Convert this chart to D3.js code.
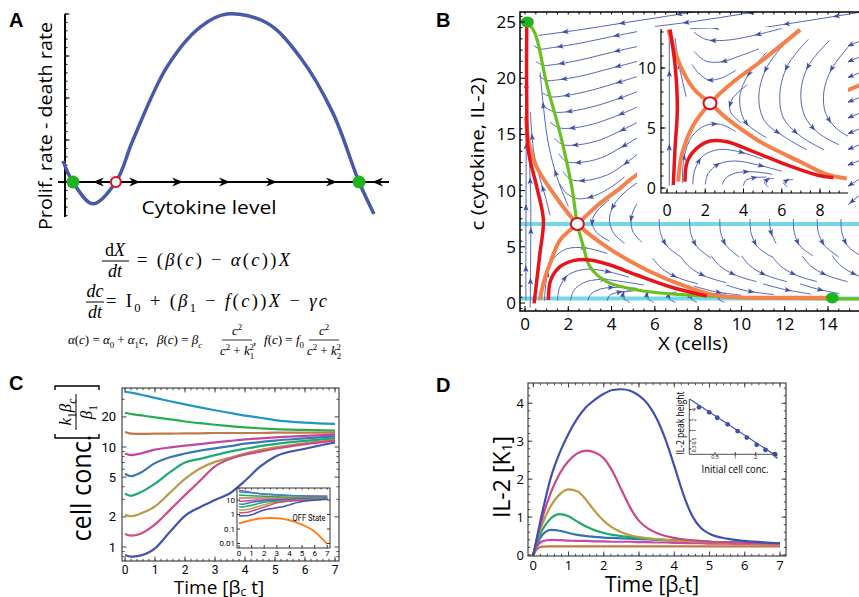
<!DOCTYPE html>
<html>
<head>
<meta charset="utf-8">
<script src="https://cdn.jsdelivr.net/npm/d3@7"></script>
<style>
  body { margin: 0; background: #fff; }
  svg { display: block; }
  text { font-family: 'Open Sans', 'DejaVu Sans', sans-serif; fill: #000; }
  .math { font-family: 'Liberation Serif', 'DejaVu Serif', serif; }
  .narrow { font-family: 'Liberation Sans Narrow', 'Roboto', sans-serif; }
  .plabel { font-family: 'Liberation Sans', Arial, sans-serif; font-weight: bold; }
</style>
</head>
<body>
<svg id="fig" width="859" height="597"></svg>
<script>
'use strict';

// ---------- data : panel A (net growth rate vs cytokine) ----------
var aCytokine = [0, 0.32, 0.96, 1.7, 2.25, 3.34, 4.41, 5.27, 6.56, 7.62, 8.68, 9.52, 10];
var aRate     = [0.625, 0, -0.65, 0, 1.25, 3.42, 4.61, 5.0, 4.73, 3.72, 2.05, 0, -0.95];
var aStable   = [0.32, 9.52];
var aUnstable = [1.7];
var aArrowPos = [0.96, 2.48, 3.86, 5.37, 6.88, 8.81, 9.94];
var aArrowDir = [-1, 1, 1, 1, 1, 1, -1];

// ---------- data : panel B (phase plane X, c) ----------
var bNullclineC = [[0.11,25.0],[0.46,24.0],[1.0,19.5],[1.62,15.1],[2.16,10.35],[2.42,7.03],[2.7,5.0],[3.0,3.23],[3.77,1.9],[5.16,1.16],[7.47,0.71],[10.55,0.47],[15.5,0.36]];
var bNullclineX = [0.4, 7.03];
var bUnstableSep = [[0.05,16.6],[0.15,14.5],[0.54,12.1],[1.31,9.76],[2.42,7.03],[3.77,5.0],[5.62,2.94],[7.47,1.45],[9.0,0.62],[12.1,0.47],[14.2,0.47]];
var bStableSep = [[0.69,0.27],[0.85,1.75],[1.16,3.53],[1.62,5.6],[2.42,7.03],[3.47,8.87],[4.39,10.2],[5.16,11.4],[10,16],[15.0,19.0],[15.6,19.5]];
var bTrajUp = [[0.42,-0.03],[0.51,1.45],[0.69,4.42],[0.85,7.38],[0.54,10.35],[0.15,13.6],[0.08,18.06],[0.08,24.7]];
var bTrajArch = [[1.08,0.27],[1.19,2.05],[1.62,3.23],[2.24,3.77],[3.0,3.83],[3.93,3.38],[5.16,2.49],[6.7,1.45],[8.4,0.62]];
var bStablePts = [[0.11,25.0],[14.2,0.45]];
var bSaddle = [2.42, 7.03];
var bStreams = [
  [[15.6,25.9],[13,25.1],[11,24.5]],
  [[12,26.3],[10,25.7],[8,25.1],[6,24.6]],
  [[8.5,26.1],[6.5,25.5],[4.5,24.9],[2.5,24.3],[0.6,23.8]],
  [[5.6,24.3],[4,23.7],[2.5,23.1],[1.2,22.7],[0.7,22.6],[0.4,22.9]],
  [[5.6,23.0],[4,22.3],[2.5,21.6],[1.3,21.2],[0.85,21.15],[0.5,21.5]],
  [[5.6,21.7],[4,20.9],[2.6,20.2],[1.5,19.85],[1.0,19.8],[0.65,20.2]],
  [[5.6,20.4],[4.1,19.5],[2.8,18.8],[1.7,18.4],[1.2,18.35],[0.8,18.7]],
  [[5.6,19.1],[4.2,18.1],[3.0,17.4],[1.9,17.0],[1.35,17.0],[0.95,17.4]],
  [[5.6,17.8],[4.3,16.7],[3.1,15.9],[2.1,15.55],[1.55,15.6],[1.15,16.1]],
  [[5.6,16.5],[4.4,15.3],[3.3,14.4],[2.3,14.05],[1.72,14.1],[1.35,14.7]],
  [[5.6,15.2],[4.5,13.9],[3.5,12.9],[2.5,12.5],[1.9,12.6],[1.55,13.3]],
  [[5.6,13.9],[4.7,12.5],[3.8,11.4],[2.8,10.9],[2.1,11.0],[1.75,11.7]],
  [[4.6,11.2],[3.8,10.1],[3.0,9.4],[2.35,9.3],[1.9,9.8],[1.6,10.6]],
  [[15.6,23.4],[14.6,22.6]], [[15.6,22.0],[14.6,21.2]], [[15.6,20.6],[14.6,19.8]],
  [[15.6,18.4],[14.6,17.6]], [[15.6,17.0],[14.6,16.2]], [[15.6,15.6],[14.6,14.8]],
  [[15.6,14.2],[14.6,13.4]], [[15.6,12.8],[14.6,12.0]], [[15.6,11.2],[14.6,10.0]],
  [[15.6,9.8],[14.7,8.4]],
  [[0.04,0.2],[0.04,5],[0.05,11],[0.06,17],[0.07,22]],
  [[0.24,-0.4],[0.26,4],[0.27,8.5],[0.2,13]],
  [[1.15,7.8],[0.95,9.4],[0.7,11],[0.4,13.5],[0.25,17]],
  [[2.0,8.6],[1.7,10],[1.35,12],[1.05,14.5],[0.85,17.5],[0.7,20.5]],
  [[0.9,0.2],[1.0,2.2],[1.3,3.9],[1.9,4.8],[2.8,4.9],[3.8,4.4]],
  [[1.5,0.2],[1.6,1.4],[2.0,2.5],[2.8,3.0],[3.8,2.8],[4.8,2.3]],
  [[2.1,0.2],[2.25,1.1],[2.7,1.8],[3.5,2.1],[4.5,1.9],[5.5,1.6]],
  [[2.9,0.2],[3.05,0.8],[3.5,1.25],[4.3,1.4],[5.2,1.3]],
  [[3.8,0.2],[3.9,0.65],[4.3,0.95],[5.0,1.05]],
  [[4.85,0.05],[4.5,0.55],[4.6,0.95],[4.9,1.15]],
  [[5.95,0.05],[5.6,0.55],[5.7,0.9],[6.0,1.05]],
  [[6.95,0.05],[6.6,0.5],[6.7,0.85],[7.0,0.98]],
  [[7.95,0.05],[7.6,0.5],[7.7,0.8],[8.0,0.9]],
  [[9.2,0.05],[8.9,0.45],[9.0,0.72],[9.3,0.8]],
  [[5.6,11.2],[4.7,10.0],[4.1,8.7],[3.9,7.4],[4.1,6.2],[4.6,5.3]],
  [[5.6,9.8],[5.1,8.6],[4.9,7.4],[5.0,6.3],[5.4,5.4]],
  [[3.9,9.2],[3.3,8.1],[3.1,7.2],[3.3,6.3],[3.9,5.5]],
  [[6.2,7.5],[6.25,6.3],[6.55,5.1],[7.2,4.1]],
  [[7.6,7.5],[7.66,6.2],[7.95,5.0],[8.6,4.0]],
  [[9.0,7.5],[9.04,6.3],[9.3,5.1],[9.9,4.1]],
  [[10.4,7.5],[10.45,6.2],[10.75,5.0],[11.4,4.1]],
  [[11.3,7.5],[11.35,6.4],[11.6,5.3]],
  [[12.4,7.5],[12.44,6.3],[12.7,5.1],[13.3,4.2]],
  [[13.5,7.5],[13.55,6.3],[13.85,5.1],[14.5,4.1]],
  [[14.6,7.5],[14.64,6.3],[14.9,5.1],[15.5,4.2]],
  [[5.9,4.0],[6.3,3.1],[7.0,2.3],[8.0,1.7]],
  [[7.2,4.1],[7.6,3.2],[8.3,2.4],[9.3,1.8]],
  [[8.6,4.2],[9.0,3.3],[9.7,2.5],[10.7,1.9]],
  [[10.0,4.2],[10.4,3.3],[11.1,2.5],[12.1,1.9]],
  [[11.4,4.2],[11.8,3.3],[12.5,2.5],[13.5,1.9]],
  [[12.8,4.2],[13.2,3.3],[13.9,2.5],[14.9,1.9]],
  [[14.2,4.2],[14.6,3.3],[15.3,2.5],[16.3,1.9]],
  [[7.8,1.5],[8.8,1.0],[10.0,0.7]],
  [[9.3,1.6],[10.2,1.1],[11.5,0.75]],
  [[11.0,1.7],[12.0,1.2],[13.2,0.8]],
  [[12.7,1.7],[13.6,1.2],[14.5,0.85]]
];

// inset of B (zoom near the saddle)
var iUnstableSep = [[0.07,13.2],[0.68,10.25],[1.38,8.3],[2.25,7.06],[3.13,5.8],[4.87,3.86],[6.96,2.19],[8.36,1.14],[9.4,0.8]];
var iStableSep = [[0.59,0.53],[0.77,2.75],[1.38,5.25],[2.25,7.06],[3.47,8.86],[4.87,10.5],[6.96,13.2]];
var iTrajUp = [[0.33,0.25],[0.42,3.3],[0.54,6.64],[0.42,10.25],[0.16,13.2]];
var iTrajArch = [[0.94,0.53],[1.06,2.19],[1.55,3.3],[2.25,3.92],[3.13,3.86],[4.52,3.03],[6.27,1.92],[7.84,1.08],[8.7,0.86]];
var iSaddle = [2.25, 7.06];
var iStreams = [
  [[4.0,13.6],[2.5,13.35],[1.2,13.3]],
  [[6.0,13.3],[4.5,12.7],[3.0,12.3],[2.0,12.4],[1.4,13.0]],
  [[4.8,11.6],[3.8,11.0],[2.8,10.5],[2.0,10.6],[1.4,11.4]],
  [[3.6,9.8],[2.9,9.2],[2.2,9.0],[1.7,9.5],[1.3,10.3]],
  [[0.12,0.2],[0.12,4],[0.12,8],[0.12,12.5]],
  [[1.0,7.6],[0.8,9.0],[0.62,10.3],[0.42,12.5]],
  [[0.8,0.4],[0.9,2.6],[1.3,4.3],[2.0,5.2],[2.8,5.3],[3.6,4.7]],
  [[1.35,0.3],[1.45,1.5],[1.9,2.7],[2.7,3.2],[3.7,3.05],[5.0,2.4]],
  [[2.0,0.3],[2.15,1.2],[2.7,2.0],[3.6,2.25],[4.8,1.9],[6.0,1.4]],
  [[2.9,0.3],[3.05,0.8],[3.6,1.25],[4.5,1.35],[5.5,1.15]],
  [[4.0,0.2],[4.1,0.6],[4.5,0.85],[5.2,0.9]],
  [[5.3,0.1],[5.1,0.45],[5.25,0.7],[5.6,0.8]],
  [[6.3,0.1],[6.1,0.4],[6.25,0.62],[6.6,0.7]],
  [[5.2,11.3],[4.2,9.3],[3.8,7.5],[4.1,5.5],[5.2,4.2]],
  [[6.3,12.3],[5.2,10.0],[4.8,7.6],[5.1,5.6],[6.2,4.2],[7.3,3.2]],
  [[7.4,12.4],[6.3,10.2],[5.9,7.8],[6.1,5.8],[7.0,4.3],[8.2,3.2]],
  [[8.5,12.3],[7.4,10.2],[7.0,8.0],[7.2,6.0],[7.9,4.6],[9.0,3.6]],
  [[9.5,11.8],[8.6,9.9],[8.2,8.0],[8.3,6.2],[8.9,4.9],[9.5,4.3]],
  [[4.2,8.6],[3.4,7.4],[3.3,6.4],[3.9,5.4]]
];

// ---------- data : panel C (cell concentration, log) ----------
var cTime = [0, 0.2, 0.5, 1, 1.5, 2, 2.5, 3, 3.5, 4, 4.5, 5, 6, 7];
var cTeal    = [35.7, 35.0, 33.5, 31.0, 28.7, 26.7, 24.9, 23.3, 21.9, 20.6, 19.6, 18.6, 17.5, 17.0];
var cGreen   = [22.0, 21.4, 20.8, 19.8, 18.9, 18.0, 17.3, 16.7, 16.2, 15.7, 15.4, 15.1, 14.8, 14.6];
var cBrown   = [14.1, 13.6, 13.5, 13.6, 13.6, 13.7, 13.7, 13.8, 13.8, 13.8, 13.8, 13.9, 13.9, 13.9];
var cMagenta = [8.6, 8.3, 8.6, 9.4, 9.9, 10.3, 10.7, 11.1, 11.5, 11.9, 12.2, 12.5, 12.9, 13.3];
var cBlue    = [5.4, 5.1, 5.5, 6.9, 7.9, 8.6, 9.2, 9.7, 10.2, 10.8, 11.2, 11.6, 12.2, 12.8];
var cGreen2  = [3.4, 3.25, 3.5, 4.3, 5.6, 7.0, 7.6, 8.3, 9.0, 9.6, 10.2, 10.7, 11.5, 12.2];
var cGold    = [2.1, 2.03, 2.15, 2.55, 3.5, 4.8, 6.1, 7.1, 7.8, 8.6, 9.3, 9.9, 10.9, 11.7];
var cPink    = [1.35, 1.3, 1.35, 1.68, 2.35, 3.3, 4.6, 6.4, 7.6, 8.4, 9.0, 9.6, 10.7, 11.6];
var cNavy    = [0.83, 0.8, 0.82, 0.97, 1.42, 2.05, 2.5, 2.95, 3.45, 4.6, 6.35, 8.0, 9.6, 11.1];
var cPurple  = [48, 45, 40, 33, 28, 25, 23.3, 22, 21, 20.5, 20, 19.6, 19, 18.6];
var cOff     = [0.25, 0.27, 0.32, 0.42, 0.5, 0.55, 0.57, 0.55, 0.5, 0.4, 0.3, 0.2, 0.065, 0.009];

// ---------- data : panel D (IL-2, linear) ----------
var dTime = [0, 0.1, 0.25, 0.5, 0.75, 1, 1.25, 1.5, 1.75, 2, 2.25, 2.5, 2.75, 3, 3.25, 3.5, 3.75, 4, 4.25, 4.5, 4.75, 5, 5.5, 6, 7];
var dBlue     = [0, 0.45, 1.1, 2.05, 2.7, 3.2, 3.6, 3.9, 4.1, 4.25, 4.35, 4.37, 4.33, 4.2, 3.98, 3.6, 3.05, 2.35, 1.62, 1.05, 0.72, 0.56, 0.43, 0.37, 0.31];
var dMagenta  = [0, 0.4, 0.95, 1.65, 2.15, 2.48, 2.68, 2.75, 2.7, 2.55, 2.2, 1.72, 1.25, 0.9, 0.7, 0.58, 0.5, 0.45, 0.41, 0.39, 0.37, 0.35, 0.33, 0.32, 0.3];
var dGold     = [0, 0.38, 0.8, 1.3, 1.6, 1.73, 1.68, 1.45, 1.15, 0.9, 0.72, 0.6, 0.52, 0.47, 0.44, 0.42, 0.4, 0.38, 0.37, 0.36, 0.35, 0.34, 0.32, 0.31, 0.29];
var dGreen    = [0, 0.33, 0.65, 0.97, 1.08, 1.02, 0.88, 0.75, 0.65, 0.58, 0.53, 0.5, 0.47, 0.45, 0.43, 0.41, 0.4, 0.39, 0.38, 0.37, 0.36, 0.35, 0.33, 0.32, 0.3];
var dBlue2    = [0, 0.28, 0.52, 0.66, 0.64, 0.58, 0.53, 0.5, 0.48, 0.46, 0.45, 0.44, 0.43, 0.42, 0.41, 0.4, 0.39, 0.38, 0.37, 0.36, 0.36, 0.35, 0.34, 0.33, 0.31];
var dMagenta2 = [0, 0.22, 0.36, 0.4, 0.39, 0.38, 0.37, 0.37, 0.36, 0.36, 0.35, 0.35, 0.35, 0.34, 0.34, 0.33, 0.33, 0.32, 0.32, 0.31, 0.31, 0.3, 0.3, 0.29, 0.28];
var dBrown    = [0, 0.15, 0.22, 0.23, 0.23, 0.23, 0.23, 0.23, 0.23, 0.23, 0.23, 0.23, 0.23, 0.23, 0.23, 0.23, 0.23, 0.23, 0.23, 0.23, 0.23, 0.23, 0.23, 0.23, 0.23];
// inset of D : peak height vs initial cell concentration
var dInitConc = [0.29, 0.41, 0.54, 0.77, 1.08, 1.48, 2.07, 2.8, 3.8];
var dPeak     = [4.63, 3.33, 2.33, 1.51, 0.97, 0.63, 0.39, 0.28, 0.21];
var dFitConc  = [0.21, 3.85];
var dFitPeak  = [8.0, 0.2];

var streamColor = '#5565b8', arrowColor = '#3f4fa8';
var svg = d3.select('#fig');

// ---------- helpers ----------
function ticks(g, scale, values, side, pos, len, color) {
  g.selectAll(null).data(values).enter().append('line')
    .attr('x1', function(d) { return side === 'left' || side === 'right' ? pos : scale(d); })
    .attr('x2', function(d) { return side === 'left' ? pos + len : side === 'right' ? pos - len : scale(d); })
    .attr('y1', function(d) { return side === 'left' || side === 'right' ? scale(d) : pos; })
    .attr('y2', function(d) { return side === 'bottom' ? pos - len : side === 'top' ? pos + len : scale(d); })
    .attr('stroke', color || '#000').attr('stroke-width', 1);
}
function label(g, x, y, str, size, anchor, rot, len) {
  var t = g.append('text').attr('font-size', size).attr('text-anchor', anchor || 'middle').text(str);
  if (rot) t.attr('transform', 'translate(' + x + ',' + y + ') rotate(' + rot + ')');
  else t.attr('x', x).attr('y', y);
  if (len) t.attr('textLength', len).attr('lengthAdjust', 'spacingAndGlyphs');
  return t;
}
// rich text: parts = [text, flags] ; flags: i=italic, s=subscript, p=superscript, b=stack over previous
function rich(g, x, y, size, parts, anchor, len) {
  var t = g.append('text').attr('x', x).attr('y', y).attr('font-size', size)
    .attr('text-anchor', anchor || 'start').attr('class', 'math');
  var shift = 0;
  parts.forEach(function(p) {
    var f = p[1] || '';
    var target = f.indexOf('s') >= 0 ? size * 0.28 : f.indexOf('p') >= 0 ? -size * 0.38 : 0;
    var ts = t.append('tspan').text(p[0]).attr('dy', target - shift);
    if (f.indexOf('i') >= 0) ts.attr('font-style', 'italic');
    if (f.indexOf('b') >= 0) ts.attr('dx', -size * 0.36);
    if (target !== 0) ts.attr('font-size', size * 0.68);
    shift = target;
  });
  if (len) t.attr('textLength', len).attr('lengthAdjust', 'spacing');
  return t;
}
function drawStreams(g, data, sx, sy) {
  var line = d3.line().x(function(d) { return sx(d[0]); }).y(function(d) { return sy(d[1]); })
    .curve(d3.curveCatmullRom.alpha(0.5));
  data.forEach(function(pts) {
    var p = g.append('path').attr('d', line(pts)).attr('fill', 'none')
      .attr('stroke', streamColor).attr('stroke-width', 1);
    var node = p.node(), L = node.getTotalLength();
    var n = Math.max(1, Math.round(L / 60));
    for (var i = 0; i < n; i++) {
      var s = (i + 0.5) * L / n;
      var a = node.getPointAtLength(Math.max(0, s - 1.5)), b = node.getPointAtLength(Math.min(L, s + 1.5));
      var ang = Math.atan2(b.y - a.y, b.x - a.x) * 180 / Math.PI;
      g.append('path').attr('d', 'M3.5,0L-3.5,-2.6L-2,0L-3.5,2.6Z')
        .attr('transform', 'translate(' + b.x + ',' + b.y + ') rotate(' + ang + ')')
        .attr('fill', arrowColor);
    }
  });
}
function clip(id, x, y, w, h) {
  svg.append('clipPath').attr('id', id).append('rect').attr('x', x).attr('y', y).attr('width', w).attr('height', h);
  return 'url(#' + id + ')';
}

// ================= panel A =================
var xA = d3.scaleLinear().domain([0, 10]).range([63, 374]);
var yA = d3.scaleLinear().domain([-1, 5]).range([215.6, 14]);
var gA = svg.append('g');
label(gA, 9, 27, 'A', 20, 'start').attr('class', 'plabel');

gA.append('line').attr('x1', 65).attr('x2', 65).attr('y1', 14).attr('y2', 217).attr('stroke', '#000').attr('stroke-width', 2);
ticks(gA, yA, d3.range(-1, 5.01, 0.25), 'left', 65, 2.5);
ticks(gA, yA, d3.range(0, 5.01, 1.25), 'left', 65, 4.5);
gA.append('line').attr('x1', 58).attr('x2', 389).attr('y1', yA(0)).attr('y2', yA(0)).attr('stroke', '#000').attr('stroke-width', 2);

gA.append('path')
  .attr('d', d3.line().x(function(d, i) { return xA(aCytokine[i]); }).y(function(d) { return yA(d); })
    .curve(d3.curveCatmullRom.alpha(0.5))(aRate))
  .attr('fill', 'none').attr('stroke', '#4a58a8').attr('stroke-width', 3.5);

gA.selectAll('.flow').data(aArrowPos).enter().append('path').attr('class', 'flow')
  .attr('d', 'M0,0L-11,-4.5L-7.5,0L-11,4.5Z')
  .attr('transform', function(d, i) {
    return 'translate(' + xA(d) + ',' + yA(0) + ') scale(' + aArrowDir[i] + ',1)';
  }).attr('fill', '#000');

gA.selectAll('.st').data(aStable).enter().append('circle')
  .attr('cx', function(d) { return xA(d); }).attr('cy', yA(0)).attr('r', 6.5).attr('fill', '#1fb31f');
gA.selectAll('.un').data(aUnstable).enter().append('circle')
  .attr('cx', function(d) { return xA(d); }).attr('cy', yA(0)).attr('r', 5).attr('fill', '#fff')
  .attr('stroke', '#e0161e').attr('stroke-width', 2.2);

label(gA, 209, 214, 'Cytokine level', 19, 'middle', 0, 135);
label(gA, 52, 126, 'Prolif. rate - death rate', 19, 'middle', -90, 208);

// equations
var gE = svg.append('g');
rich(gE, 115, 256, 18, [['d'], ['X', 'i']], 'middle');
gE.append('line').attr('x1', 102).attr('x2', 129).attr('y1', 261).attr('y2', 261).attr('stroke', '#000');
rich(gE, 115, 277, 18, [['dt', 'i']], 'middle');
rich(gE, 137, 266, 18.5, [['= ('], ['β', 'i'], ['('], ['c', 'i'], [') − '], ['α', 'i'], ['('], ['c', 'i'], ['))'], ['X', 'i']], 'start', 153);

rich(gE, 95, 297, 18, [['dc', 'i']], 'middle');
gE.append('line').attr('x1', 86).attr('x2', 104).attr('y1', 302).attr('y2', 302).attr('stroke', '#000');
rich(gE, 95, 318, 18, [['dt', 'i']], 'middle');
rich(gE, 106, 307, 18.5, [['= I'], ['0', 's'], [' + ('], ['β', 'i'], ['1', 's'], [' − '], ['f', 'i'], ['('], ['c', 'i'], ['))'], ['X', 'i'], [' − '], ['γc', 'i']], 'start', 221);

rich(gE, 68, 344, 13, [['α', 'i'], ['('], ['c', 'i'], [') = '], ['α', 'i'], ['0', 's'], [' + '], ['α', 'i'], ['1', 's'], ['c', 'i'], [',']], 'start', 80);
rich(gE, 157, 344, 13, [['β', 'i'], ['('], ['c', 'i'], [') = '], ['β', 'i'], ['c', 'si']]);
rich(gE, 237, 335, 13, [['c', 'i'], ['2', 'p']], 'middle');
gE.append('line').attr('x1', 222).attr('x2', 252).attr('y1', 340).attr('y2', 340).attr('stroke', '#000').attr('stroke-width', 0.8);
rich(gE, 237, 355, 13, [['c', 'i'], ['2', 'p'], [' + '], ['k', 'i'], ['1', 's'], ['2', 'pb']], 'middle');
rich(gE, 253, 344, 13, [[',']]);
rich(gE, 264, 344, 13, [['f', 'i'], ['('], ['c', 'i'], [') = '], ['f', 'i'], ['0', 's']]);
rich(gE, 324, 335, 13, [['c', 'i'], ['2', 'p']], 'middle');
gE.append('line').attr('x1', 309).attr('x2', 339).attr('y1', 340).attr('y2', 340).attr('stroke', '#000').attr('stroke-width', 0.8);
rich(gE, 324, 355, 13, [['c', 'i'], ['2', 'p'], [' + '], ['k', 'i'], ['2', 's'], ['2', 'pb']], 'middle');

// ================= panel B =================
var xB = d3.scaleLinear().domain([0, 14]).range([525, 828]);
var yB = d3.scaleLinear().domain([0, 25]).range([303, 22]);
var gB = svg.append('g');
label(gB, 436, 27, 'B', 20, 'start').attr('class', 'plabel');
var lineB = d3.line().x(function(d) { return xB(d[0]); }).y(function(d) { return yB(d[1]); }).curve(d3.curveCatmullRom.alpha(0.5));

var gBp = gB.append('g').attr('clip-path', clip('clipB', 520, 12, 340, 299));
bNullclineX.forEach(function(c) {
  gBp.append('line').attr('x1', xB(-0.2)).attr('x2', xB(15.6)).attr('y1', yB(c)).attr('y2', yB(c))
    .attr('stroke', '#74d9e6').attr('stroke-width', 4);
});
drawStreams(gBp, bStreams, xB, yB);
gBp.append('path').attr('d', lineB(bNullclineC)).attr('fill', 'none').attr('stroke', '#6cc01e').attr('stroke-width', 3.2);
[bUnstableSep, bStableSep].forEach(function(s) {
  gBp.append('path').attr('d', lineB(s)).attr('fill', 'none').attr('stroke', '#f5804a').attr('stroke-width', 4);
});
[bTrajUp, bTrajArch].forEach(function(s) {
  gBp.append('path').attr('d', lineB(s)).attr('fill', 'none').attr('stroke', '#e8141c').attr('stroke-width', 3.5);
});
gBp.selectAll('.sp').data(bStablePts).enter().append('ellipse')
  .attr('cx', function(d) { return xB(d[0]); }).attr('cy', function(d) { return yB(d[1]); })
  .attr('rx', 6.5).attr('ry', 5.5).attr('fill', '#1fb31f');
gBp.append('ellipse').attr('cx', xB(bSaddle[0])).attr('cy', yB(bSaddle[1])).attr('rx', 6.5).attr('ry', 6)
  .attr('fill', '#fff').attr('stroke', '#d0101a').attr('stroke-width', 2);

// frame + ticks
gB.append('path').attr('d', 'M862,12H520V311H862').attr('fill', 'none').attr('stroke', '#000').attr('stroke-width', 1.5);
ticks(gB, yB, d3.range(-0.5, 26, 1), 'left', 520, 2.5);
ticks(gB, yB, d3.range(0, 26, 5), 'left', 520, 5);
ticks(gB, xB, d3.range(-0.0, 15.6, 0.5), 'bottom', 311, 2.5);
ticks(gB, xB, d3.range(0, 15.6, 2), 'bottom', 311, 5);
ticks(gB, xB, d3.range(-0.0, 15.6, 0.5), 'top', 12, 2.5);
gB.selectAll('.yl').data(d3.range(0, 26, 5)).enter().append('text')
  .attr('x', 516).attr('y', function(d) { return yB(d) + 6; }).attr('text-anchor', 'end').attr('font-size', 17)
  .text(function(d) { return d; });
gB.selectAll('.xl').data(d3.range(0, 15, 2)).enter().append('text')
  .attr('x', function(d) { return xB(d); }).attr('y', 330).attr('text-anchor', 'middle').attr('font-size', 17)
  .text(function(d) { return d; });
label(gB, 693, 350, 'X (cells)', 19, 'middle', 0, 70);
label(gB, 484, 154, 'c (cytokine, IL-2)', 19, 'middle', -90, 153);

// inset of B
var xI = d3.scaleLinear().domain([0, 8]).range([667, 820]);
var yI = d3.scaleLinear().domain([0, 10]).range([188, 68]);
var lineI = d3.line().x(function(d) { return xI(d[0]); }).y(function(d) { return yI(d[1]); }).curve(d3.curveCatmullRom.alpha(0.5));
var gI = gB.append('g');
gI.append('rect').attr('x', 637).attr('y', 27).attr('width', 211).attr('height', 192).attr('fill', '#fff');
var gIp = gI.append('g').attr('clip-path', clip('clipI', 661, 28, 187, 165));
drawStreams(gIp, iStreams, xI, yI);
[iUnstableSep, iStableSep].forEach(function(s) {
  gIp.append('path').attr('d', lineI(s)).attr('fill', 'none').attr('stroke', '#f5804a').attr('stroke-width', 4);
});
[iTrajUp, iTrajArch].forEach(function(s) {
  gIp.append('path').attr('d', lineI(s)).attr('fill', 'none').attr('stroke', '#e8141c').attr('stroke-width', 3.5);
});
gIp.append('ellipse').attr('cx', xI(iSaddle[0])).attr('cy', yI(iSaddle[1])).attr('rx', 6.5).attr('ry', 6)
  .attr('fill', '#fff').attr('stroke', '#d0101a').attr('stroke-width', 2);
gI.append('path').attr('d', 'M661,29V193H848').attr('fill', 'none').attr('stroke', '#000').attr('stroke-width', 1.2);
ticks(gI, yI, d3.range(0, 13.1, 1), 'left', 661, 2.5);
ticks(gI, yI, [0, 5, 10], 'left', 661, 4.5);
ticks(gI, xI, d3.range(0, 9.5, 0.5), 'bottom', 193, 2.5);
ticks(gI, xI, d3.range(0, 9.5, 2), 'bottom', 193, 4.5);
gI.selectAll('.yl').data([0, 5, 10]).enter().append('text')
  .attr('x', 656).attr('y', function(d) { return yI(d) + 6; }).attr('text-anchor', 'end').attr('font-size', 16)
  .text(function(d) { return d; });
gI.selectAll('.xl').data([0, 2, 4, 6, 8]).enter().append('text')
  .attr('x', function(d) { return xI(d); }).attr('y', 216).attr('text-anchor', 'middle').attr('font-size', 16)
  .text(function(d) { return d; });

// ================= panel C =================
var xC = d3.scaleLinear().domain([0, 7]).range([125, 335]);
var yC = d3.scaleLog().domain([1, 10]).range([547, 447]);
var gC = svg.append('g');
label(gC, 9, 390, 'C', 20, 'start').attr('class', 'plabel');
var cSeries = [
  [cTeal, '#2196c4'], [cGreen, '#26ac4f'], [cBrown, '#c07a48'], [cMagenta, '#c4479f'], [cBlue, '#3a78b5'],
  [cGreen2, '#1ea77b'], [cGold, '#b59c45'], [cPink, '#d04a82'], [cNavy, '#4252b0']
];
var gCp = gC.append('g').attr('clip-path', clip('clipC', 122, 388, 217, 173));
cSeries.forEach(function(s) {
  gCp.append('path')
    .attr('d', d3.line().x(function(d, i) { return xC(cTime[i]); }).y(function(d) { return yC(d); }).curve(d3.curveMonotoneX)(s[0]))
    .attr('fill', 'none').attr('stroke', s[1]).attr('stroke-width', 2.2);
});
gC.append('rect').attr('x', 122).attr('y', 388).attr('width', 217).attr('height', 173)
  .attr('fill', 'none').attr('stroke', '#444').attr('stroke-width', 1.2);
var cMajor = [1, 2, 5, 10, 20], cMinor = [0.8, 0.9, 3, 4, 6, 7, 8, 9, 30];
ticks(gC, yC, cMajor, 'left', 122, 4.5, '#444'); ticks(gC, yC, cMinor, 'left', 122, 2.5, '#444');
ticks(gC, yC, cMajor, 'right', 339, 4.5, '#444'); ticks(gC, yC, cMinor, 'right', 339, 2.5, '#444');
ticks(gC, xC, d3.range(0, 7.01, 1), 'bottom', 561, 4.5, '#444'); ticks(gC, xC, d3.range(0, 7.01, 0.2), 'bottom', 561, 2.2, '#444');
ticks(gC, xC, d3.range(0, 7.01, 1), 'top', 388, 4.5, '#444'); ticks(gC, xC, d3.range(0, 7.01, 0.2), 'top', 388, 2.2, '#444');
gC.selectAll('.yl').data(cMajor).enter().append('text').attr('class', 'narrow')
  .attr('x', 116).attr('y', function(d) { return yC(d) + 4.5; }).attr('text-anchor', 'end').attr('font-size', 13)
  .text(function(d) { return d; });
gC.selectAll('.xl').data(d3.range(0, 8)).enter().append('text').attr('class', 'narrow')
  .attr('x', function(d) { return xC(d); }).attr('y', 574).attr('text-anchor', 'middle').attr('font-size', 12)
  .text(function(d) { return d; });
label(gC, 91, 488, 'cell conc.', 28, 'middle', -90, 107);
var gCu = gC.append('g').attr('transform', 'translate(76,412) rotate(-90)');
gCu.append('path').attr('d', 'M-22,-21H-26V23H-22M22,-21H26V23H22').attr('fill', 'none').attr('stroke', '#000').attr('stroke-width', 1.4);
rich(gCu, 0, -5, 17, [['k', 'i'], ['1', 's'], ['β', 'i'], ['c', 'si']], 'middle');
gCu.append('line').attr('x1', -18).attr('x2', 18).attr('y1', 0).attr('y2', 0).attr('stroke', '#000');
rich(gCu, 0, 16, 17, [['β', 'i'], ['1', 's']], 'middle');
var tC = gC.append('text').attr('x', 219).attr('y', 594).attr('text-anchor', 'middle').attr('font-size', 19);
tC.append('tspan').text('Time [β');
tC.append('tspan').text('c').attr('font-size', 12).attr('dy', 2);
tC.append('tspan').text(' t]').attr('dy', -2);

// inset of C
var xCi = d3.scaleLinear().domain([0, 7]).range([239, 327.3]);
var yCi = d3.scaleLog().domain([0.01, 10]).range([543.5, 500]);
var gCi = gC.append('g');
gCi.append('rect').attr('x', 237).attr('y', 488).attr('width', 93).attr('height', 60).attr('fill', '#fff');
var gCip = gCi.append('g').attr('clip-path', clip('clipCi', 237, 488, 93, 60));
[[cPurple, '#a84cc0']].concat(cSeries).concat([[cOff, '#ff7f1a']]).forEach(function(s) {
  gCip.append('path')
    .attr('d', d3.line().x(function(d, i) { return xCi(cTime[i]); }).y(function(d) { return yCi(d); }).curve(d3.curveMonotoneX)(s[0]))
    .attr('fill', 'none').attr('stroke', s[1]).attr('stroke-width', s[0] === cOff ? 2 : 1.5);
});
gCi.append('rect').attr('x', 237).attr('y', 488).attr('width', 93).attr('height', 60)
  .attr('fill', 'none').attr('stroke', '#333').attr('stroke-width', 1);
ticks(gCi, yCi, [0.01, 0.1, 1, 10], 'left', 237, 3, '#333');
ticks(gCi, yCi, [0.01, 0.1, 1, 10], 'right', 330, 3, '#333');
ticks(gCi, xCi, d3.range(0, 7.01, 1), 'bottom', 548, 3, '#333');
ticks(gCi, xCi, d3.range(0, 7.01, 0.5), 'top', 488, 1.5, '#333');
gCi.selectAll('.yl').data([0.01, 0.1, 1, 10]).enter().append('text').attr('class', 'narrow')
  .attr('x', 235).attr('y', function(d) { return yCi(d) + 2.7; }).attr('text-anchor', 'end').attr('font-size', 8)
  .text(function(d) { return d; });
gCi.selectAll('.xl').data(d3.range(0, 8)).enter().append('text').attr('class', 'narrow')
  .attr('x', function(d) { return xCi(d); }).attr('y', 556).attr('text-anchor', 'middle').attr('font-size', 8)
  .text(function(d) { return d; });
label(gCi, 309, 521, 'OFF State', 9, 'middle', 0, 33).attr('class', 'narrow');

// ================= panel D =================
var xD = d3.scaleLinear().domain([0, 7]).range([533.3, 780]);
var yD = d3.scaleLinear().domain([0, 4]).range([555, 403.3]);
var gD = svg.append('g');
label(gD, 436, 392, 'D', 20, 'start').attr('class', 'plabel');
var dSeries = [
  [dBrown, '#c8763c'], [dMagenta2, '#c84aa8'], [dBlue2, '#2f74b4'], [dGreen, '#22a86b'],
  [dGold, '#b99a45'], [dMagenta, '#cc4688'], [dBlue, '#3f4fb0']
];
var gDp = gD.append('g').attr('clip-path', clip('clipD', 528, 383, 258, 173));
dSeries.forEach(function(s) {
  gDp.append('path')
    .attr('d', d3.line().x(function(d, i) { return xD(dTime[i]); }).y(function(d) { return yD(d); }).curve(d3.curveMonotoneX)(s[0]))
    .attr('fill', 'none').attr('stroke', s[1]).attr('stroke-width', 2.2);
});
gD.append('rect').attr('x', 528).attr('y', 383).attr('width', 258).attr('height', 173)
  .attr('fill', 'none').attr('stroke', '#444').attr('stroke-width', 1.2);
ticks(gD, yD, d3.range(0, 4.5, 1), 'left', 528, 4.5, '#444'); ticks(gD, yD, d3.range(0, 4.5, 0.2), 'left', 528, 2.2, '#444');
ticks(gD, yD, d3.range(0, 4.5, 1), 'right', 786, 4.5, '#444'); ticks(gD, yD, d3.range(0, 4.5, 0.2), 'right', 786, 2.2, '#444');
ticks(gD, xD, d3.range(0, 7.01, 1), 'bottom', 556, 4.5, '#444'); ticks(gD, xD, d3.range(0, 7.01, 0.2), 'bottom', 556, 2.2, '#444');
ticks(gD, xD, d3.range(0, 7.01, 1), 'top', 383, 4.5, '#444'); ticks(gD, xD, d3.range(0, 7.01, 0.2), 'top', 383, 2.2, '#444');
gD.selectAll('.yl').data(d3.range(0, 5)).enter().append('text')
  .attr('x', 524).attr('y', function(d) { return yD(d) + 5; }).attr('text-anchor', 'end').attr('font-size', 13)
  .text(function(d) { return d; });
gD.selectAll('.xl').data(d3.range(0, 8)).enter().append('text')
  .attr('x', function(d) { return xD(d); }).attr('y', 570).attr('text-anchor', 'middle').attr('font-size', 13)
  .text(function(d) { return d; });
var tDy = gD.append('text').attr('transform', 'translate(510,477) rotate(-90)').attr('text-anchor', 'middle').attr('font-size', 23);
tDy.append('tspan').text('IL-2 [K');
tDy.append('tspan').text('1').attr('font-size', 14).attr('dy', 2);
tDy.append('tspan').text(']').attr('dy', -2);
var tD = gD.append('text').attr('x', 652).attr('y', 592).attr('text-anchor', 'middle').attr('font-size', 21);
tD.append('tspan').text('Time [β');
tD.append('tspan').text('c').attr('font-size', 13).attr('dy', 2);
tD.append('tspan').text('t]').attr('dy', -2);

// inset of D
var xDi = d3.scaleLog().base(2).domain([0.5, 4]).range([715, 776]);
var yDi = d3.scaleLog().domain([0.2, 8]).range([455, 399]);
var gDi = gD.append('g');
gDi.append('path').attr('d', 'M689.3,399V454.3H778').attr('fill', 'none').attr('stroke', '#222').attr('stroke-width', 0.8);
gDi.append('path')
  .attr('d', d3.line().x(function(d, i) { return xDi(dFitConc[i]); }).y(function(d) { return yDi(d); })(dFitPeak))
  .attr('stroke', '#3f4fb0').attr('stroke-width', 1.2).attr('fill', 'none');
gDi.selectAll('.pk').data(dPeak).enter().append('circle')
  .attr('cx', function(d, i) { return xDi(dInitConc[i]); }).attr('cy', function(d) { return yDi(d); })
  .attr('r', 2.4).attr('fill', '#3f4fb0');
ticks(gDi, xDi, [0.5, 1, 2, 4], 'bottom', 454.3, 2, '#222');
ticks(gDi, yDi, [0.3, 0.5, 1, 2, 4], 'left', 689.3, 2, '#222');
gDi.selectAll('.xl').data([0.5, 1, 2, 4]).enter().append('text')
  .attr('x', function(d) { return xDi(d); }).attr('y', 459).attr('text-anchor', 'middle').attr('font-size', 5.5)
  .text(function(d) { return d; });
gDi.selectAll('.yl').data([0.3, 0.5, 1, 2, 4]).enter().append('text')
  .attr('transform', function(d) { return 'translate(696,' + yDi(d) + ') rotate(-90)'; })
  .attr('text-anchor', 'middle').attr('font-size', 5).attr('fill', '#555')
  .text(function(d) { return d; });
label(gDi, 684, 423, 'IL-2 peak height', 11, 'middle', -90, 63);
label(gDi, 735, 473, 'Initial cell conc.', 11.5, 'middle', 0, 67);
</script>
</body>
</html>
